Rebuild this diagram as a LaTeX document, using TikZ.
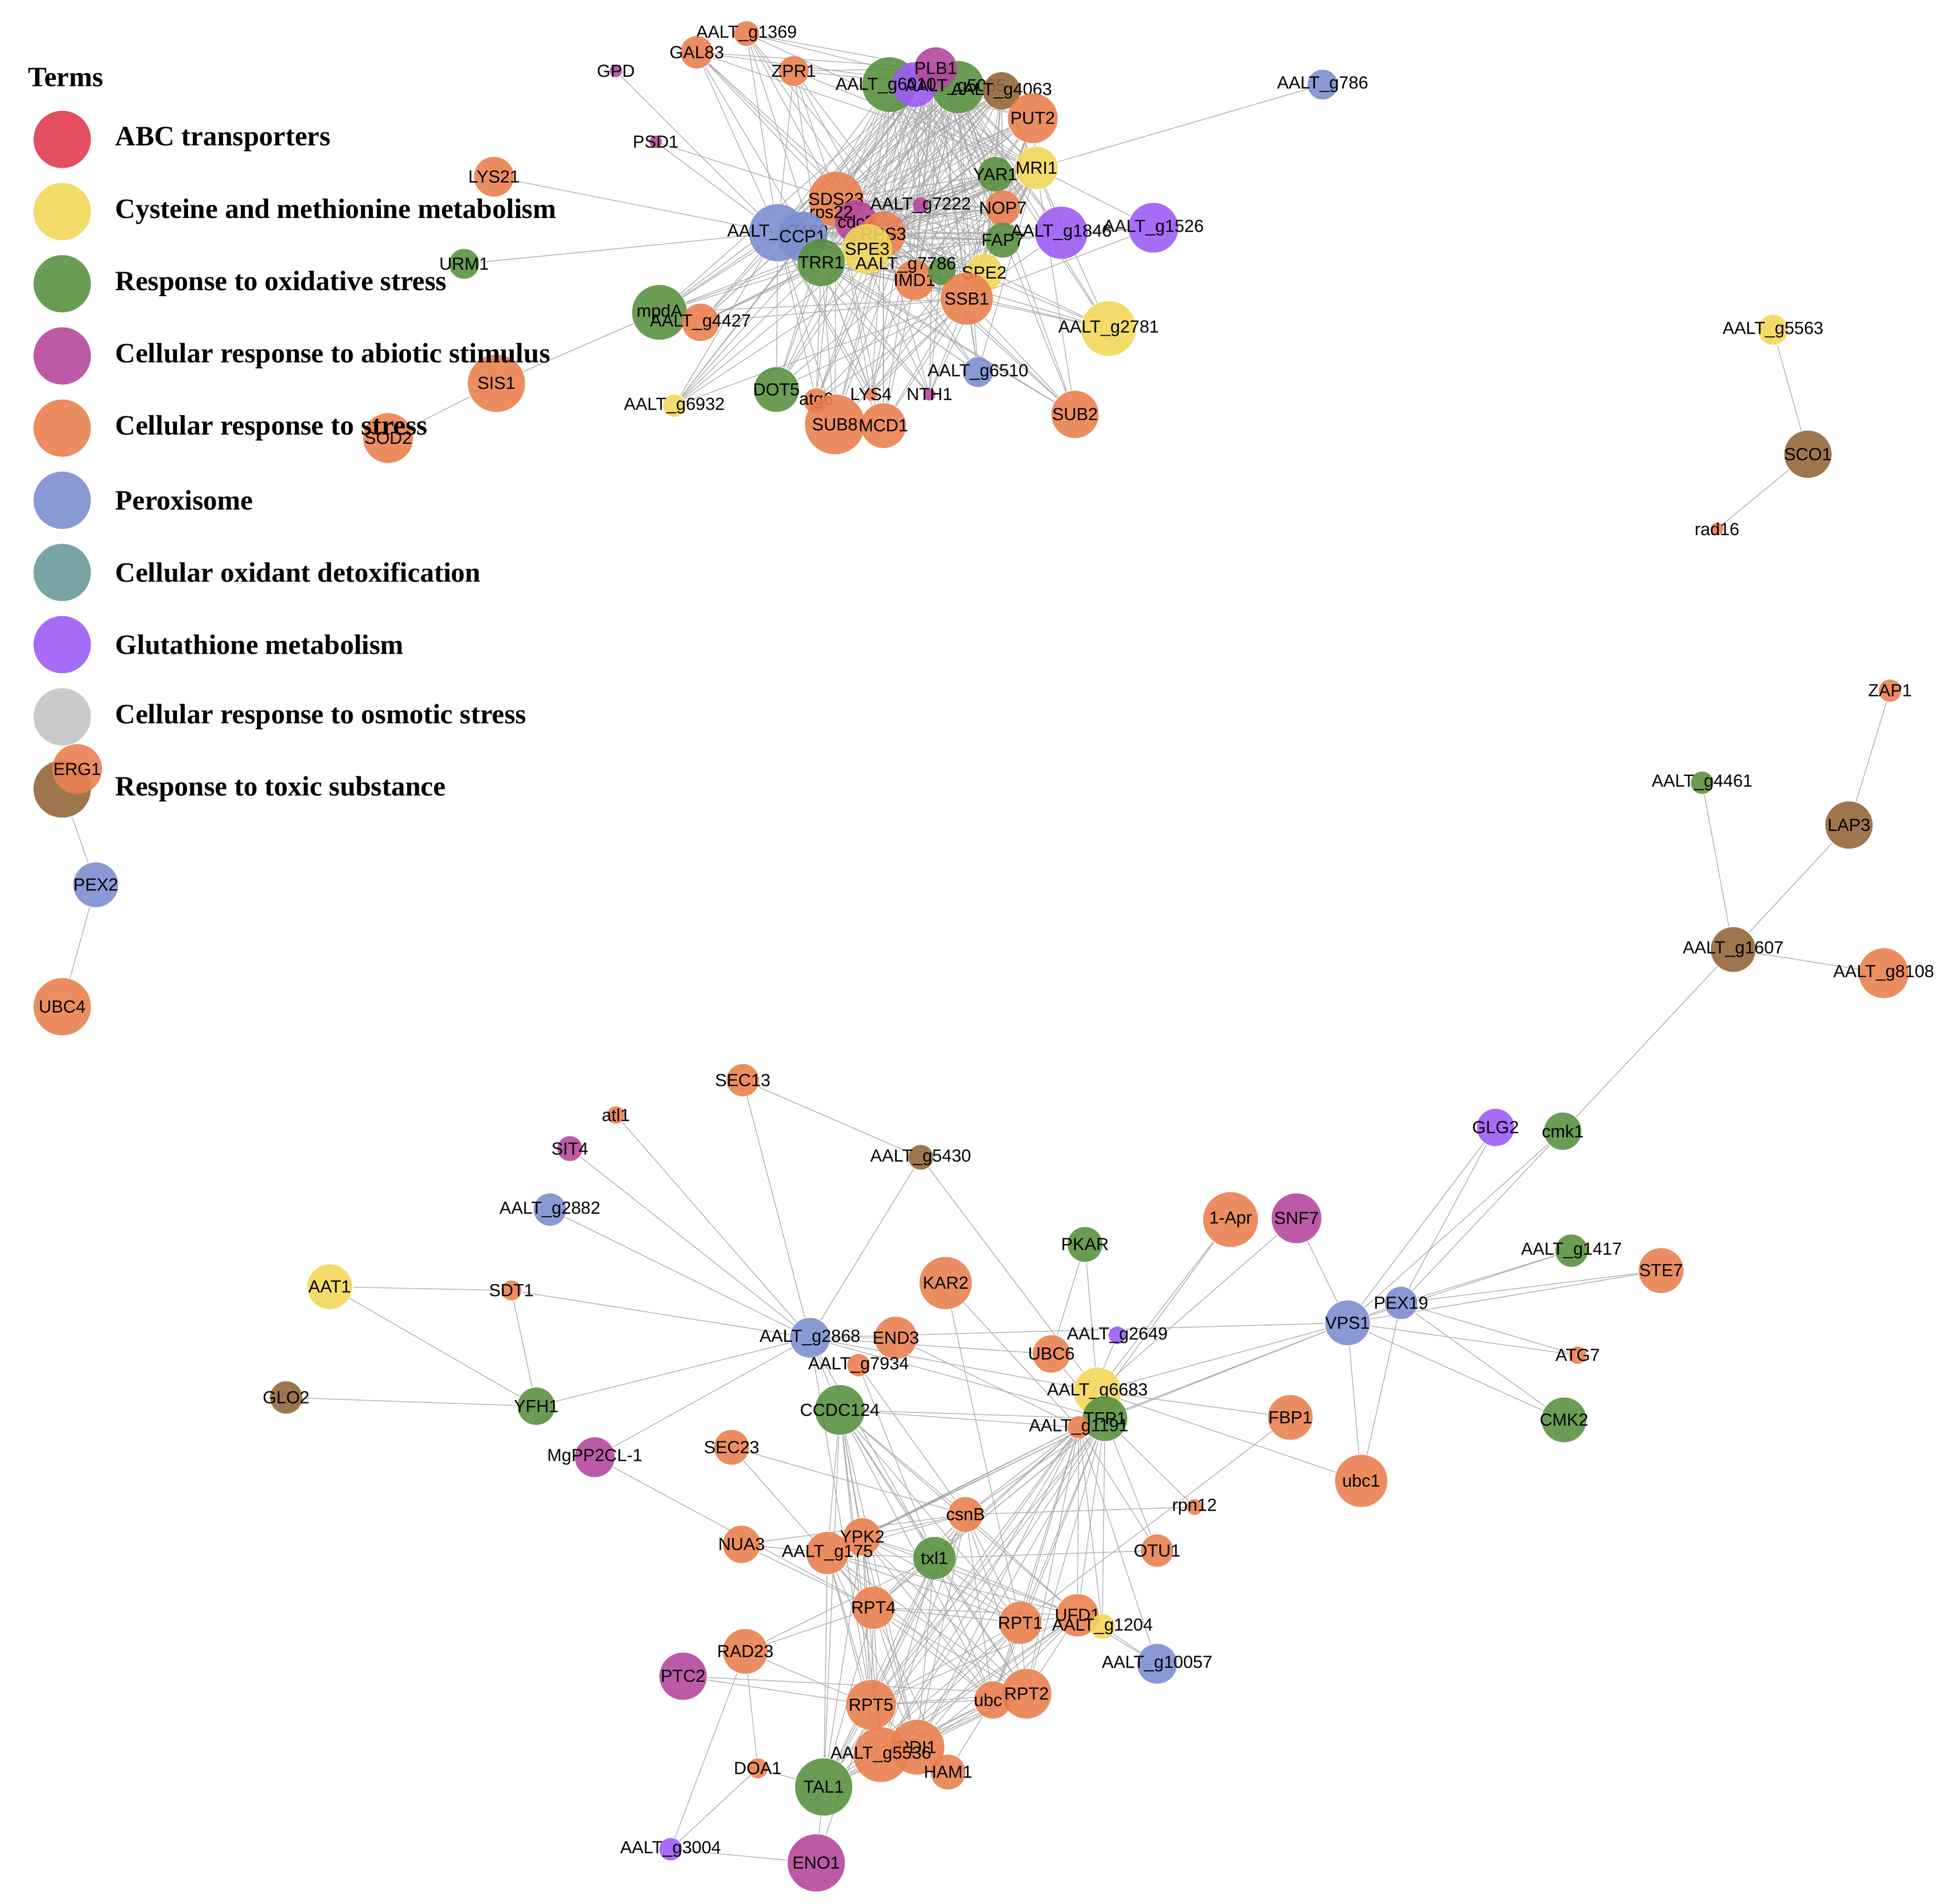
\documentclass[tikz,border=0pt]{standalone}
\usepackage{fontspec}
\setmainfont{Liberation Serif}
\setsansfont{Liberation Sans}
\usetikzlibrary{backgrounds}
\definecolor{co}{HTML}{E9814F}
\definecolor{cg}{HTML}{5A9140}
\definecolor{cb}{HTML}{7C8ECF}
\definecolor{cy}{HTML}{F2D75A}
\definecolor{cm}{HTML}{B5489E}
\definecolor{cp}{HTML}{9D5CF5}
\definecolor{cbr}{HTML}{94673B}
\definecolor{cr}{HTML}{E03B4F}
\definecolor{ct}{HTML}{6A9A9C}
\definecolor{cgr}{HTML}{C4C4C4}
\tikzset{
  gene/.style 2 args={circle, draw=none, fill=#1, fill opacity=.9, text opacity=1,
    inner sep=0pt, minimum size=#2*0.1mm, font=\sffamily\fontsize{4}{4}\selectfont,
    execute at begin node={\hbox to 0pt\bgroup\hss},
    execute at end node={\hss\egroup}},
  glabel/.style={font=\sffamily\fontsize{4}{4}\selectfont, inner sep=0pt},
  edge/.style={draw=gray!70, line width=0.15pt},
  term/.style={circle, fill=#1, fill opacity=.9, minimum size=4.6mm, inner sep=0pt},
  termtext/.style={anchor=west, inner sep=0pt, font=\bfseries\fontsize{6.4}{7}\selectfont}
}
\begin{document}
\begin{tikzpicture}[x=0.1mm, y=-0.1mm]
\useasboundingbox (0,0) rectangle (1560,1530);

    % Top cluster
    \node[gene={co}{20}] at (600,27) (g1369) {AALT\_g1369};
    \node[gene={co}{26}] at (560,42) (GAL83) {GAL83};
    \node[gene={co}{24}] at (638,57) (ZPR1) {ZPR1};
    \node[gene={cm}{8}] at (495,57) (GPD) {GPD};
    \node[gene={cg}{44}] at (715,68) (g6010) {};
    \node[gene={cg}{42}] at (770,70) (g5065) {};
    \node[gene={cp}{36}] at (735,68) (g2112) {};
    \node[gene={cm}{34}] at (752,55) (PLB1) {PLB1};
    \node[glabel] at (712,69) {AALT\_g6010};
    \node[glabel] at (768,70) {AALT\_g5065};
    \node[gene={cbr}{30}] at (805,73) (g4063) {AALT\_g4063};
    \node[gene={co}{40}] at (830,95) (PUT2) {PUT2};
    \node[gene={cb}{24}] at (1063,68) (g786) {AALT\_g786};
    \node[gene={cm}{10}] at (527,114) (PSD1) {PSD1};
    \node[gene={co}{32}] at (397,142) (LYS21) {LYS21};
    \node[gene={cy}{34}] at (833,135) (MRI1) {MRI1};
    \node[gene={cg}{28}] at (800,140) (YAR1) {YAR1};
    \node[gene={co}{44}] at (672,160) (SDS23) {SDS23};
    \node[gene={cm}{34}] at (688,178) (cdc2) {cdc2};
    \node[glabel] at (668,172) {rps22};
    \node[gene={cm}{10}] at (740,165) (g7222) {AALT\_g7222};
    \node[gene={co}{28}] at (806,167) (NOP7) {NOP7};
    \node[gene={cb}{46}] at (625,187) (g7460) {AALT\_g7460};
    \node[gene={cb}{40}] at (645,190) (CCP1) {CCP1};
    \node[gene={co}{36}] at (710,188) (RPS3) {RPS3};
    \node[gene={cy}{40}] at (697,200) (SPE3) {SPE3};
    \node[gene={cg}{38}] at (660,211) (TRR1) {TRR1};
    \node[gene={cg}{28}] at (806,193) (FAP7) {FAP7};
    \node[gene={cp}{42}] at (853,187) (g1846) {AALT\_g1846};
    \node[gene={cp}{40}] at (927,183) (g1526) {AALT\_g1526};
    \node[gene={cg}{24}] at (373,212) (URM1) {URM1};
    \node[gene={co}{32}] at (735,225) (IMD1) {IMD1};
    \node[gene={cg}{22}] at (757,218) (ACL1) {};
    \node[glabel] at (728,213) {AALT\_g7786};
    \node[gene={cy}{30}] at (791,219) (SPE2) {SPE2};
    \node[gene={co}{42}] at (777,240) (SSB1) {SSB1};
    \node[gene={cy}{44}] at (891,264) (g2781) {AALT\_g2781};
    \node[gene={cg}{44}] at (530,251) (mpdA) {mpdA};
    \node[gene={co}{30}] at (563,259) (g4427) {AALT\_g4427};
    \node[gene={co}{46}] at (399,308) (SIS1) {SIS1};
    \node[gene={co}{40}] at (312,352) (SOD2) {SOD2};
    \node[gene={cy}{18}] at (542,326) (g6932) {AALT\_g6932};
    \node[gene={cg}{36}] at (624,313) (DOT5) {DOT5};
    \node[gene={co}{20}] at (656,322) (atg6) {atg6};
    \node[gene={co}{6}] at (700,317) (LYS4) {LYS4};
    \node[gene={cm}{8}] at (747,317) (NTH1) {NTH1};
    \node[gene={cb}{24}] at (786,299) (g6510) {AALT\_g6510};
    \node[gene={co}{38}] at (864,333) (SUB2) {SUB2};
    \node[gene={co}{48}] at (671,341) (SUB8) {SUB8};
    \node[gene={co}{36}] at (710,342) (MCD1) {MCD1};

    % Right side
    \node[gene={cy}{24}] at (1425,265) (g5563) {AALT\_g5563};
    \node[gene={cbr}{38}] at (1453,365) (SCO1) {SCO1};
    \node[gene={co}{10}] at (1380,425) (rad16) {rad16};
    \node[gene={co}{18}] at (1519,555) (ZAP1) {ZAP1};
    \node[gene={cg}{18}] at (1368,629) (g4461) {AALT\_g4461};
    \node[gene={cbr}{38}] at (1486,663) (LAP3) {LAP3};
    \node[gene={cbr}{36}] at (1393,763) (g1607) {AALT\_g1607};
    \node[gene={co}{40}] at (1514,782) (g8108) {AALT\_g8108};

    % Left side
    \node[gene={co}{46}] at (50,809) (UBC4) {UBC4};
    \node[gene={cb}{36}] at (77,711) (PEX2) {PEX2};

    % Bottom cluster
    \node[gene={co}{26}] at (597,868) (SEC13) {SEC13};
    \node[gene={co}{14}] at (495,896) (atl1) {atl1};
    \node[gene={cm}{20}] at (458,923) (SIT4) {SIT4};
    \node[gene={cbr}{20}] at (740,930) (g5430) {AALT\_g5430};
    \node[gene={cb}{26}] at (442,972) (g2882) {AALT\_g2882};
    \node[gene={cy}{36}] at (265,1034) (AAT1) {AAT1};
    \node[gene={co}{16}] at (411,1037) (SDT1) {SDT1};
    \node[gene={cp}{30}] at (1202,906) (GLG2) {GLG2};
    \node[gene={cg}{30}] at (1256,909) (cmk1) {cmk1};
    \node[gene={co}{44}] at (989,980) (apr1) {1-Apr};
    \node[gene={cm}{40}] at (1042,979) (SNF7) {SNF7};
    \node[gene={cg}{28}] at (872,1000) (PKAR) {PKAR};
    \node[gene={cg}{26}] at (1263,1005) (g1417) {AALT\_g1417};
    \node[gene={co}{36}] at (1335,1021) (STE7) {STE7};
    \node[gene={co}{42}] at (760,1031) (KAR2) {KAR2};
    \node[gene={cb}{26}] at (1126,1047) (PEX19) {PEX19};
    \node[gene={cb}{36}] at (1083,1063) (VPS1) {VPS1};
    \node[gene={cb}{32}] at (651,1075) (g2868) {AALT\_g2868};
    \node[gene={co}{34}] at (720,1075) (END3) {END3};
    \node[gene={cp}{14}] at (898,1073) (g2649) {AALT\_g2649};
    \node[gene={co}{30}] at (845,1088) (UBC6) {UBC6};
    \node[gene={co}{14}] at (1268,1089) (ATG7) {ATG7};
    \node[gene={co}{18}] at (690,1097) (g7934) {AALT\_g7934};
    \node[gene={cy}{38}] at (882,1118) (g6683) {AALT\_g6683};
    \node[gene={cg}{36}] at (888,1140) (TFP1) {TFP1};
    \node[gene={co}{18}] at (867,1147) (g1191) {AALT\_g1191};
    \node[gene={cbr}{26}] at (230,1123) (GLO2) {GLO2};
    \node[gene={cg}{30}] at (431,1130) (YFH1) {YFH1};
    \node[gene={cg}{40}] at (675,1133) (CCDC124) {CCDC124};
    \node[gene={co}{36}] at (1037,1139) (FBP1) {FBP1};
    \node[gene={cg}{36}] at (1257,1141) (CMK2) {CMK2};
    \node[gene={cm}{32}] at (478,1171) (MgPP2CL) {MgPP2CL-1};
    \node[gene={co}{28}] at (588,1163) (SEC23) {SEC23};
    \node[gene={co}{42}] at (1094,1190) (ubc1) {ubc1};
    \node[gene={co}{10}] at (960,1211) (rpn12) {rpn12};
    \node[gene={co}{28}] at (776,1217) (csnB) {csnB};
    \node[gene={co}{30}] at (596,1241) (NUA3) {NUA3};
    \node[gene={co}{30}] at (693,1235) (YPK2) {YPK2};
    \node[gene={co}{34}] at (665,1248) (g175) {AALT\_g175};
    \node[gene={cg}{34}] at (751,1252) (txl1) {txl1};
    \node[gene={co}{26}] at (930,1246) (OTU1) {OTU1};
    \node[gene={co}{34}] at (702,1292) (RPT4) {RPT4};
    \node[gene={co}{34}] at (866,1298) (UFD1) {UFD1};
    \node[gene={co}{34}] at (820,1304) (RPT1) {RPT1};
    \node[gene={cy}{20}] at (886,1307) (g1204) {AALT\_g1204};
    \node[gene={co}{36}] at (599,1327) (RAD23) {RAD23};
    \node[gene={cb}{32}] at (930,1337) (g10057) {AALT\_g10057};
    \node[gene={cm}{38}] at (549,1347) (PTC2) {PTC2};
    \node[gene={co}{40}] at (700,1370) (RPT5) {RPT5};
    \node[gene={co}{30}] at (798,1366) (ubc7) {ubc7};
    \node[gene={co}{40}] at (825,1361) (RPT2) {RPT2};
    \node[gene={co}{44}] at (737,1404) (PDI1) {PDI1};
    \node[gene={co}{44}] at (708,1410) (g5536) {AALT\_g5536};
    \node[gene={co}{16}] at (609,1421) (DOA1) {DOA1};
    \node[gene={co}{28}] at (762,1424) (HAM1) {HAM1};
    \node[gene={cg}{46}] at (662,1436) (TAL1) {TAL1};
    \node[gene={cp}{18}] at (539,1486) (g3004) {AALT\_g3004};
    \node[gene={cm}{46}] at (656,1497) (ENO1) {ENO1};

    % Edges
    \begin{scope}[on background layer]
    \foreach \a [count=\i] in {SDS23,g7460,CCP1,RPS3,SPE3,TRR1,PUT2,PLB1,g6010,g5065,g2112,MRI1,YAR1,NOP7,FAP7,SSB1,IMD1,SPE2,cdc2,g4063,g7222}
      \foreach \b [count=\j] in {SDS23,g7460,CCP1,RPS3,SPE3,TRR1,PUT2,PLB1,g6010,g5065,g2112,MRI1,YAR1,NOP7,FAP7,SSB1,IMD1,SPE2,cdc2,g4063,g7222}
        {\ifnum\i<\j \draw[edge] (\a) -- (\b);\fi}
    \foreach \a in {g1369,GAL83,ZPR1,mpdA,g4427,DOT5,atg6,LYS4,SUB8,MCD1,SUB2,g2781,g1846,g6510,NTH1,g6932}
      \foreach \b in {SDS23,g7460,RPS3,TRR1,PLB1,g5065,SSB1,MRI1}
        \draw[edge] (\a) -- (\b);
    \foreach \a/\b in {GPD/g7460,PSD1/g7460,PSD1/SDS23,LYS21/g7460,URM1/g7460,SIS1/mpdA,SOD2/SIS1,
      g786/MRI1,g1526/FAP7,g1526/MRI1,g1526/SSB1,g1846/g1526}
      \draw[edge] (\a) -- (\b);
    \foreach \a/\b in {g5563/SCO1,SCO1/rad16,ZAP1/LAP3,LAP3/g1607,g4461/g1607,g1607/g8108,g1607/cmk1,PEX2/UBC4}
      \draw[edge] (\a) -- (\b);
    \foreach \a [count=\i] in {csnB,txl1,RPT4,RPT5,RPT1,RPT2,ubc7,PDI1,g5536,g175,YPK2,UFD1,g1191,TFP1,TAL1,CCDC124}
      \foreach \b [count=\j] in {csnB,txl1,RPT4,RPT5,RPT1,RPT2,ubc7,PDI1,g5536,g175,YPK2,UFD1,g1191,TFP1,TAL1,CCDC124}
        {\ifnum\i<\j \draw[edge] (\a) -- (\b);\fi}
    \foreach \a/\b in {SEC13/g5430,SEC13/g2868,atl1/g2868,SIT4/g2868,g2882/g2868,g5430/g2868,g5430/g6683,
      AAT1/SDT1,AAT1/YFH1,SDT1/YFH1,SDT1/g2868,GLO2/YFH1,YFH1/g2868,MgPP2CL/g2868,MgPP2CL/RPT4,
      g2868/END3,g2868/g6683,g2868/UBC6,g2868/TFP1,g2868/VPS1,END3/g1191,KAR2/g1191,KAR2/RPT1,
      PKAR/g6683,PKAR/UBC6,apr1/g6683,apr1/g1191,SNF7/VPS1,SNF7/g6683,g2649/g1191,UBC6/TFP1,
      VPS1/g6683,VPS1/TFP1,VPS1/g1191,VPS1/PEX19,VPS1/GLG2,VPS1/cmk1,VPS1/g1417,VPS1/STE7,
      VPS1/ATG7,VPS1/CMK2,VPS1/ubc1,PEX19/GLG2,PEX19/cmk1,PEX19/g1417,PEX19/STE7,PEX19/ATG7,
      PEX19/CMK2,PEX19/ubc1,g6683/FBP1,g6683/ubc1,TFP1/rpn12,TFP1/OTU1,FBP1/RPT1,g1191/OTU1,
      g1191/g1204,g1191/g10057,TFP1/g1204,g1204/g10057,UFD1/g10057,SEC23/csnB,SEC23/RPT4,
      NUA3/csnB,NUA3/RPT4,NUA3/g175,RAD23/RPT4,RAD23/RPT5,RAD23/txl1,RAD23/DOA1,PTC2/RPT5,
      PTC2/RPT2,DOA1/TAL1,DOA1/g3004,g3004/ENO1,g3004/RAD23,ENO1/TAL1,ENO1/RPT5,HAM1/RPT4,
      HAM1/ubc7,g7934/csnB,g7934/txl1,CCDC124/g2868,rpn12/csnB,OTU1/txl1,g2868/RPT5,g2868/txl1}
      \draw[edge] (\a) -- (\b);
    \end{scope}

    % Legend
    \node[termtext] at (22,62) (terms) {Terms};
    \foreach \c/\t [count=\k from 0] in {cr/ABC transporters, cy/Cysteine and methionine metabolism,
      cg/Response to oxidative stress, cm/Cellular response to abiotic stimulus,
      co/Cellular response to stress, cb/Peroxisome, ct/Cellular oxidant detoxification,
      cp/Glutathione metabolism, cgr/Cellular response to osmotic stress, cbr/Response to toxic substance}
      {\node[term=\c] at (50,112+58*\k) (t\k) {};
       \node[termtext] at (92,112+58*\k) {\t};}
    \node[gene={co}{40}] at (62,618) (ERG1) {ERG1};
    \draw[edge] (t9) -- (PEX2);
\end{tikzpicture}
\end{document}
